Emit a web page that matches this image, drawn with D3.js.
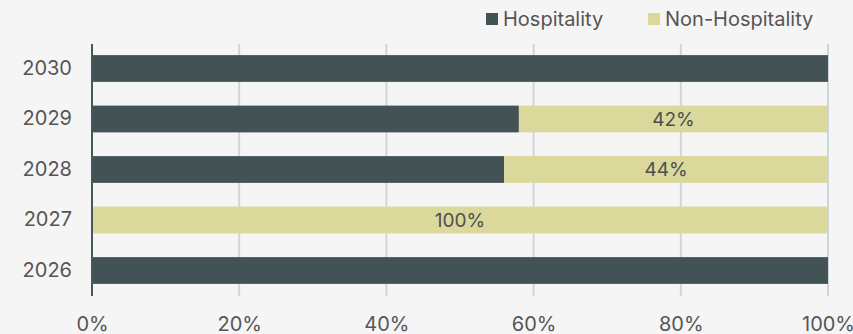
<!DOCTYPE html>
<html>
<head>
<meta charset="utf-8">
<script src="https://cdn.jsdelivr.net/npm/d3@7"></script>
<style>
  html, body { margin: 0; padding: 0; background: #f5f5f5; }
  svg { display: block; font-family: Inter, "Noto Sans", sans-serif; }
</style>
</head>
<body>
<svg id="chart" width="853" height="334"></svg>
<script>
// Share of each year's total, in percent
const years = ["2030", "2029", "2028", "2027", "2026"];
const hospitality = [100, 58, 56, 0, 100];
const nonHospitality = [0, 42, 44, 100, 0];
const seriesNames = ["Hospitality", "Non-Hospitality"];
const xTicks = [0, 20, 40, 60, 80, 100];

const colors = { "Hospitality": "#435255", "Non-Hospitality": "#dbd89b" };

const W = 853, H = 334;
const margin = { top: 43, right: 25, bottom: 38, left: 92 };
const fontSize = 20;

const svg = d3.select("#chart");

const rows = years.map((y, i) => ({
  year: y,
  "Hospitality": hospitality[i],
  "Non-Hospitality": nonHospitality[i]
}));

const x = d3.scaleLinear().domain([0, 100]).range([margin.left, W - margin.right]);
const y = d3.scaleBand().domain(years).range([margin.top, H - margin.bottom]).paddingInner(0.47).paddingOuter(0.24);

// Vertical gridlines
svg.append("g")
  .selectAll("line")
  .data(xTicks.filter(t => t > 0))
  .join("line")
  .attr("x1", d => x(d)).attr("x2", d => x(d))
  .attr("y1", margin.top + 1).attr("y2", H - margin.bottom)
  .attr("stroke", "#cfd6d9")
  .attr("stroke-width", 2);

// Stacked bars
const stack = d3.stack().keys(seriesNames);
const layers = stack(rows);

svg.append("g")
  .selectAll("g")
  .data(layers)
  .join("g")
  .attr("fill", d => colors[d.key])
  .selectAll("rect")
  .data(d => d.map(s => ({ s, key: d.key })))
  .join("rect")
  .attr("x", d => x(d.s[0]))
  .attr("y", d => y(d.s.data.year))
  .attr("width", d => x(d.s[1]) - x(d.s[0]))
  .attr("height", y.bandwidth());

// Value labels on the non-hospitality segments
svg.append("g")
  .selectAll("text")
  .data(layers[1].filter(s => s[1] - s[0] > 0))
  .join("text")
  .attr("x", d => (x(d[0]) + x(d[1])) / 2)
  .attr("y", d => y(d.data.year) + y.bandwidth() / 2)
  .attr("dy", "0.36em")
  .attr("text-anchor", "middle")
  .attr("fill", "#4b4f50")
  .attr("font-size", 19)
  .text(d => (d[1] - d[0]) + "%");

// Y axis
const yAxis = svg.append("g")
  .attr("transform", `translate(${margin.left},0)`)
  .call(d3.axisLeft(y).tickSize(0).tickPadding(20));
yAxis.select(".domain").remove();
yAxis.selectAll("text").attr("font-size", fontSize).attr("fill", "#555").attr("font-family", "Inter, sans-serif");
svg.append("line")
  .attr("x1", margin.left).attr("x2", margin.left)
  .attr("y1", margin.top + 1).attr("y2", H - margin.bottom)
  .attr("stroke", "#48575a").attr("stroke-width", 2);

// X axis labels
const xAxis = svg.append("g")
  .attr("transform", `translate(0,${H - margin.bottom})`)
  .call(d3.axisBottom(x).tickValues(xTicks).tickFormat(d => d + "%").tickSize(0).tickPadding(21));
xAxis.select(".domain").remove();
xAxis.selectAll("text").attr("font-size", fontSize).attr("fill", "#555").attr("font-family", "Inter, sans-serif");

// Legend
const legendX = [486, 648];
const legend = svg.append("g")
  .selectAll("g")
  .data(seriesNames)
  .join("g")
  .attr("transform", (d, i) => `translate(${legendX[i]},13)`);
legend.append("rect").attr("width", 12).attr("height", 12).attr("fill", d => colors[d]);
legend.append("text")
  .attr("x", 17).attr("y", 6).attr("dy", "0.36em")
  .attr("font-size", fontSize).attr("fill", "#555")
  .text(d => d);
</script>
</body>
</html>
